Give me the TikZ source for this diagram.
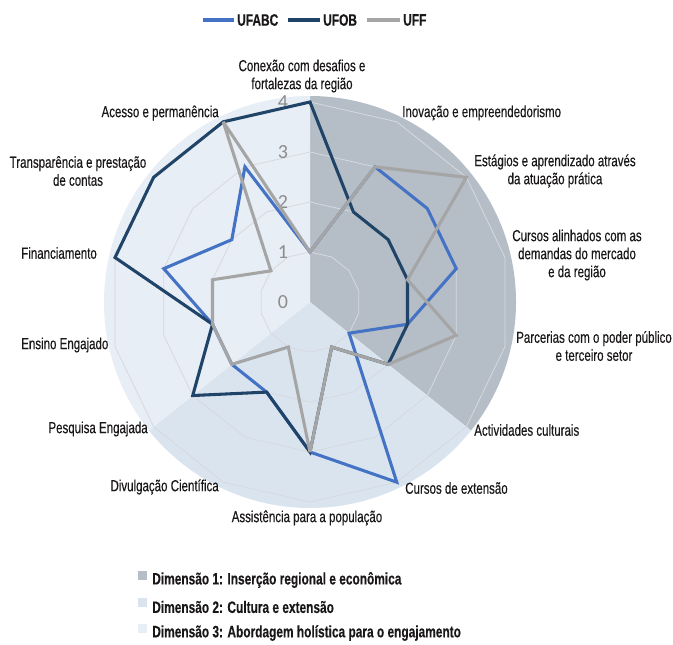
\documentclass[tikz,border=0pt]{standalone}
\usepackage{fontspec}
\setmainfont{Liberation Sans}[FakeStretch=0.72, FakeBold=0.25]
\newfontfamily\numfont{Carlito}
\definecolor{ufabcc}{HTML}{4472C4}
\definecolor{ufobc}{HTML}{1F4468}
\definecolor{uffc}{HTML}{A5A5A5}
\definecolor{dimone}{HTML}{B5BDC7}
\definecolor{dimtwo}{HTML}{DAE4EF}
\definecolor{dimthree}{HTML}{E8EEF5}
\definecolor{ringc}{HTML}{D6DADF}
\definecolor{txt}{HTML}{1A1718}
\definecolor{numc}{HTML}{8C8C8C}
\begin{document}
\begin{tikzpicture}[x=0.75pt,y=-0.75pt,
  lbl/.style={font=\fontsize{12}{13.5}\selectfont, text=txt, align=center, inner sep=0pt},
  leg/.style={font=\bfseries\fontsize{12.4}{13.5}\selectfont, text=txt, inner sep=0pt, anchor=west},
  num/.style={font=\numfont\fontsize{15}{15}\selectfont, text=numc, inner sep=0pt},
  series/.style={line width=2.3pt, line join=miter, miter limit=4},
  ufabc/.style={series, draw=ufabcc},
  ufob/.style={series, draw=ufobc},
  uff/.style={series, draw=uffc},
  ring/.style={draw=ringc, line width=0.6pt},
  legline/.style={line width=2.3pt}]
\useasboundingbox (0,0) rectangle (673,644);
\fill[white] (0,0) rectangle (673,644);

\begin{scope}[shift={(310,302)}, y=0.75pt]
  % dimension sectors
  \fill[dimone] (0,0) -- (90:206) arc[start angle=90, end angle=-38.5714, radius=206] -- cycle;
  \fill[dimtwo] (0,0) -- (-38.5714:206) arc[start angle=-38.5714, end angle=-141.4286, radius=206] -- cycle;
  \fill[dimthree] (0,0) -- (-141.4286:206) arc[start angle=-141.4286, end angle=-270, radius=206] -- cycle;
  % grid rings
  \foreach \r in {50,100,150,200}
    \draw[ring] (90:\r) \foreach \i in {1,...,13} { -- ({90-\i*360/14}:\r) } -- cycle;
  % value labels
  \foreach \k in {0,...,4}
    \node[num] (v\k) at (-27,{50*\k}) {\k};
  % series
  \draw[ufabc] (90:50) -- (64.2857:150) -- (38.5714:150) -- (12.8571:150) -- (-12.8571:100)
     -- (-38.5714:50) -- (-64.2857:200) -- (-90:150) -- (-115.7143:100) -- (-141.4286:100)
     -- (-167.1429:100) -- (167.1429:150) -- (141.4286:100) -- (115.7143:150) -- cycle;
  \draw[ufob] (90:200) -- (64.2857:100) -- (38.5714:100) -- (12.8571:100) -- (-12.8571:100)
     -- (-38.5714:100) -- (-64.2857:50) -- (-90:150) -- (-115.7143:100) -- (-141.4286:150)
     -- (-167.1429:100) -- (167.1429:200) -- (141.4286:200) -- (115.7143:200) -- cycle;
  \draw[uff] (90:50) -- (64.2857:150) -- (38.5714:200) -- (12.8571:100) -- (-12.8571:150)
     -- (-38.5714:100) -- (-64.2857:50) -- (-90:150) -- (-115.7143:50) -- (-141.4286:100)
     -- (-167.1429:100) -- (167.1429:100) -- (141.4286:50) -- (115.7143:200) -- cycle;
\end{scope}

% axis labels
\node[lbl] (conexao) at (302,76) {Conexão com desafios e\\fortalezas da região};
\node[lbl, anchor=west] (inovacao) at (402,113) {Inovação e empreendedorismo};
\node[lbl] (estagios) at (555,171) {Estágios e aprendizado através\\da atuação prática};
\node[lbl] (cursosal) at (577,255) {Cursos alinhados com as\\demandas do mercado\\e da região};
\node[lbl] (parcerias) at (594,346) {Parcerias com o poder público\\e terceiro setor};
\node[lbl, anchor=west] (activ) at (474,430) {Actividades culturais};
\node[lbl, anchor=west] (cursosext) at (405,488) {Cursos de extensão};
\node[lbl] (assist) at (307,518) {Assistência para a população};
\node[lbl, anchor=east] (divulg) at (219,487) {Divulgação Científica};
\node[lbl, anchor=east] (pesquisa) at (148,429) {Pesquisa Engajada};
\node[lbl, anchor=west] (ensino) at (21,345) {Ensino Engajado};
\node[lbl, anchor=west] (financ) at (21,253) {Financiamento};
\node[lbl] (transp) at (78,171) {Transparência e prestação\\de contas};
\node[lbl, anchor=east] (acesso) at (219,113) {Acesso e permanência};

% top legend
\coordinate (la1) at (203,20); \coordinate (la2) at (234,20);
\coordinate (lb1) at (288,20); \coordinate (lb2) at (320,20);
\coordinate (lc1) at (367,20); \coordinate (lc2) at (400,20);
\draw[legline, ufabcc] (la1) -- (la2);
\draw[legline, ufobc] (lb1) -- (lb2);
\draw[legline, uffc] (lc1) -- (lc2);
\node[leg] (tufabc) at (237,20) {UFABC};
\node[leg] (tufob) at (323,20) {UFOB};
\node[leg] (tuff) at (403,20) {UFF};

% bottom legend
\fill[dimone] (138,571) rectangle (147,580);
\fill[dimtwo] (138,598) rectangle (147,607);
\fill[dimthree] (138,624) rectangle (147,633);
\node[leg] (d1) at (152,580) {Dimensão 1: Inserção regional e econômica};
\node[leg] (d2) at (152,607) {Dimensão 2: Cultura e extensão};
\node[leg] (d3) at (152,633) {Dimensão 3: Abordagem holística para o engajamento};
\end{tikzpicture}
\end{document}
